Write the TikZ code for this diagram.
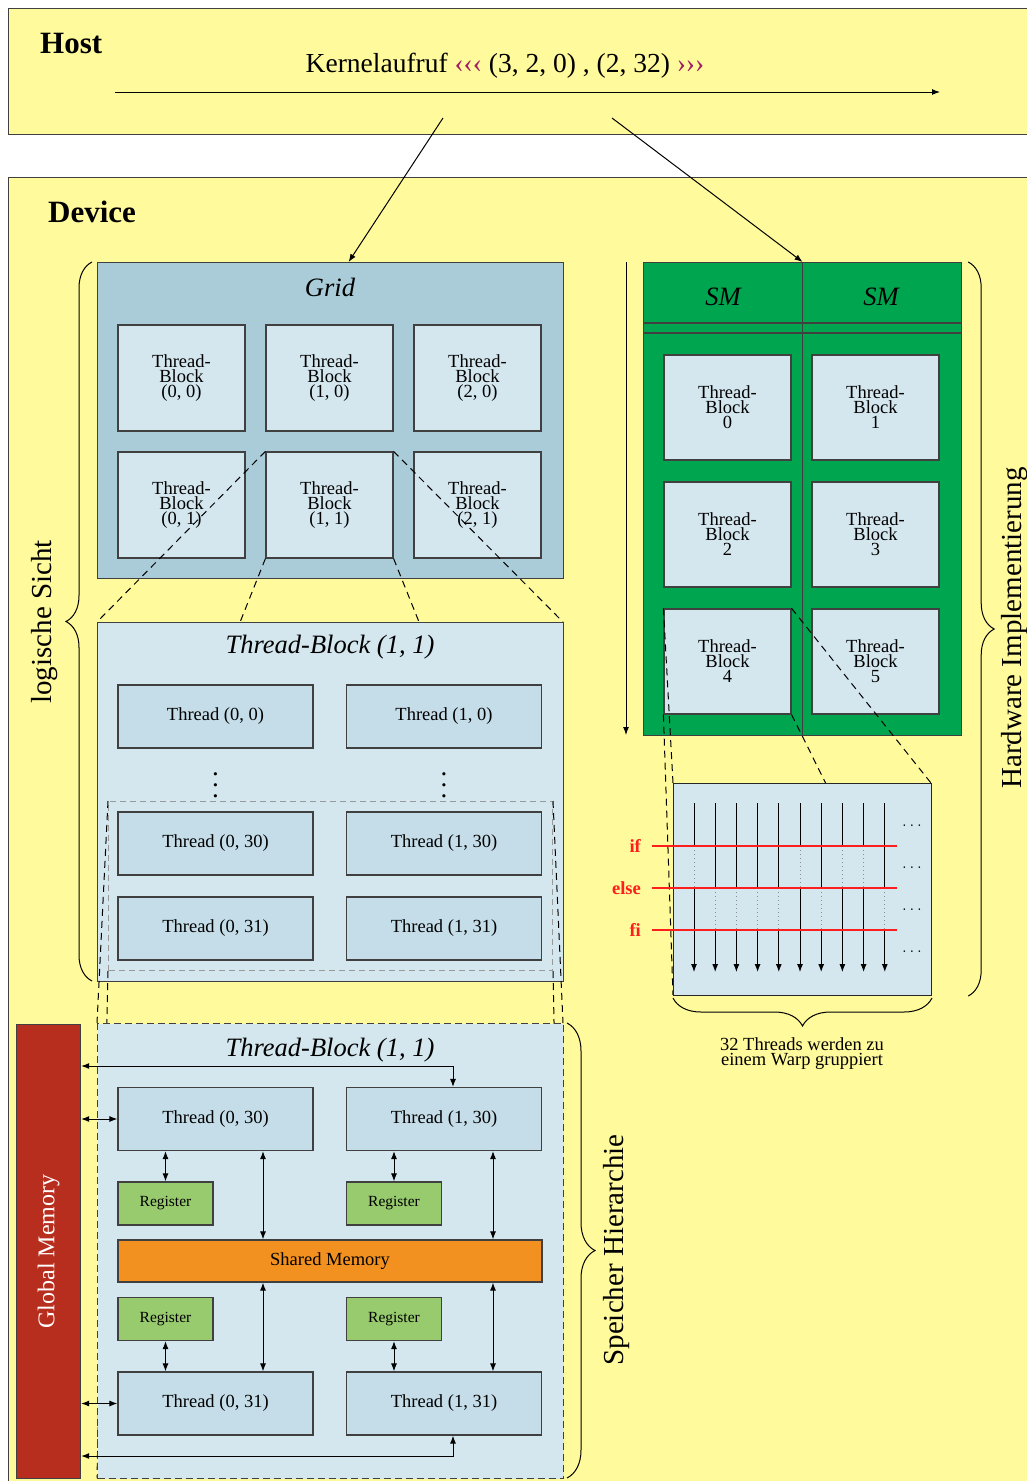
\documentclass[tikz,border=0pt]{standalone}
\usepackage{fontspec}
\setmainfont{Liberation Serif}
\usepackage{xcolor}
\usepackage{tikz}
\usetikzlibrary{positioning, arrows.meta, decorations.pathreplacing}

\definecolor{devyellow}{RGB}{255,250,155}
\definecolor{gridblue}{RGB}{170,204,216}
\definecolor{blockblue}{RGB}{212,231,239}
\definecolor{threadblue}{RGB}{196,221,232}
\definecolor{smgreen}{RGB}{0,165,80}
\definecolor{gmred}{RGB}{184,46,30}
\definecolor{reggreen}{RGB}{152,203,110}
\definecolor{shmorange}{RGB}{243,145,32}
\definecolor{launch}{RGB}{160,30,100}
\definecolor{branchred}{RGB}{255,30,30}

\newcommand{\cudalabel}{\fontsize{18.5}{15}\selectfont}
\newcommand{\cudatitle}{\fontsize{26.5}{30}\selectfont\itshape}
\newcommand{\cudabrace}{\fontsize{29}{32}\selectfont}
\newcommand{\cudahead}{\fontsize{31}{34}\selectfont\bfseries}

\tikzset{
  box/.style={draw=black!75, line width=1.2pt, inner sep=0pt},
  tblock/.style={box, fill=blockblue, minimum width=127pt, minimum height=106pt, align=center, font=\cudalabel},
  thread/.style={box, fill=threadblue, minimum width=195pt, minimum height=63pt, font=\cudalabel},
  register/.style={box, fill=reggreen, minimum width=95pt, minimum height=43pt, font=\fontsize{15.5}{18}\selectfont},
  title/.style={anchor=base, inner sep=0pt, font=\cudatitle},
  proj/.style={black, line width=1pt, dash pattern=on 7pt off 5pt},
  memarrow/.style={<->, line width=1pt},
  warparrow/.style={->, line width=1pt},
  inactive/.style={black!45, line width=0.9pt, dash pattern=on 1pt off 3pt},
  branch/.style={branchred, line width=1.2pt},
  branchlabel/.style={anchor=base east, inner sep=0pt, text=branchred, font=\fontsize{18.5}{20}\selectfont\bfseries},
  bracedeco/.style={decorate, line width=1pt, decoration={brace, amplitude=#1}},
}

\begin{document}
\begin{tikzpicture}[x=1pt, y=-1pt, >={Latex[length=8pt,width=6pt]}]
    \useasboundingbox (0,0) rectangle (1027,1481);
    \clip (0,0) rectangle (1027,1481);

    % Host with the kernel launch
    \node[box, fill=devyellow, minimum width=1040pt, minimum height=126pt, anchor=north west] (host) at (8,8) {};
    \node[anchor=base west, inner sep=0pt, font=\cudahead] (hostlabel) at (40,53) {Host};
    \node[font=\fontsize{27.5}{30}\selectfont] (kcall) at (505,66) {Kernelaufruf \textcolor{launch}{‹‹‹} (3, 2, 0) , (2, 32) \textcolor{launch}{›››}};
    \coordinate (t0) at (115,92);
    \coordinate (t1) at (940,92);
    \draw[->, line width=1pt] (t0) -- (t1);

    % Device
    \node[box, fill=devyellow, minimum width=1040pt, minimum height=1320pt, anchor=north west] (device) at (8,177) {};
    \node[anchor=base west, inner sep=0pt, font=\cudahead] (devlabel) at (48,222) {Device};

    % Grid of thread blocks
    \node[box, fill=gridblue, minimum width=466pt, minimum height=316pt, anchor=north west] (grid) at (97,262) {};
    \node[title] (gridlabel) at (330,296) {Grid};
    \node[tblock] (gb00) at (181.5,378) {Thread-\\Block\\(0, 0)};
    \node[tblock] (gb10) at (329.5,378) {Thread-\\Block\\(1, 0)};
    \node[tblock] (gb20) at (477.5,378) {Thread-\\Block\\(2, 0)};
    \node[tblock] (gb01) at (181.5,505) {Thread-\\Block\\(0, 1)};
    \node[tblock] (gb11) at (329.5,505) {Thread-\\Block\\(1, 1)};
    \node[tblock] (gb21) at (477.5,505) {Thread-\\Block\\(2, 1)};

    % Kernel launch to grid
    \coordinate (kgrid) at (443,118);
    \draw[->, line width=1pt] (kgrid) -- ([xshift=18pt]grid.north);

    % Zoom from block (1, 1) into its threads
    \coordinate (tbnw) at (97,622);
    \coordinate (tbne) at (563,622);
    \coordinate (tbsw) at (97,981);
    \coordinate (tbse) at (563,981);
    \draw[proj] (gb11.north west) -- (tbnw);
    \draw[proj] (gb11.south west) -- (tbsw);
    \draw[proj] (gb11.north east) -- (tbne);
    \draw[proj] (gb11.south east) -- (tbse);

    % Thread-Block (1, 1)
    \node[box, fill=blockblue, minimum width=466pt, minimum height=359pt, anchor=north west] (tb11) at (tbnw) {};
    \node[title] (tb11label) at (330,653) {Thread-Block (1, 1)};
    \node[thread] (tt00) at (215.5,716.5) {Thread (0, 0)};
    \node[thread] (tt10) at (444,716.5) {Thread (1, 0)};
    \node[scale=2.7, inner sep=0pt] (vdots0) at (215.5,777) {$\vdots$};
    \node[scale=2.7, inner sep=0pt] (vdots1) at (444,777) {$\vdots$};
    \node[thread] (tt030) at (215.5,843.5) {Thread (0, 30)};
    \node[thread] (tt130) at (444,843.5) {Thread (1, 30)};
    \node[thread] (tt031) at (215.5,928.5) {Thread (0, 31)};
    \node[thread] (tt131) at (444,928.5) {Thread (1, 31)};
    \node[draw=black!40, line width=1pt, dash pattern=on 6pt off 4pt, inner sep=0pt, minimum width=444pt, minimum height=169pt, anchor=north west] (sel) at (108,801) {};

    % Zoom from the last two threads into the memory view
    \coordinate (memnw) at (97,1023);
    \coordinate (memne) at (563,1023);
    \coordinate (memsw) at (97,1478);
    \coordinate (memse) at (563,1478);
    \draw[proj] (sel.north west) -- (memnw);
    \draw[proj] (sel.south west) -- (memsw);
    \draw[proj] (sel.north east) -- (memne);
    \draw[proj] (sel.south east) -- (memse);

    % Memory hierarchy
    \node[box, dash pattern=on 7pt off 4pt, fill=blockblue, minimum width=466pt, minimum height=455pt, anchor=north west] (mem) at (memnw) {};
    \node[title] (memlabel) at (330,1056) {Thread-Block (1, 1)};
    \node[box, fill=gmred, minimum width=64pt, minimum height=454pt, anchor=north west] (gm) at (16,1024) {};
    \node[rotate=90, text=white, font=\fontsize{24}{26}\selectfont] (gmlabel) at (gm.center) {Global Memory};
    \node[thread] (t030) at (215.5,1119) {Thread (0, 30)};
    \node[thread] (t130) at (444,1119) {Thread (1, 30)};
    \node[register] (r030) at (165.5,1203.5) {Register};
    \node[register] (r130) at (394,1203.5) {Register};
    \node[box, fill=shmorange, minimum width=424pt, minimum height=42pt, font=\cudalabel] (shm) at (330,1261) {Shared Memory};
    \node[register] (r031) at (165.5,1319) {Register};
    \node[register] (r131) at (394,1319) {Register};
    \node[thread] (t031) at (215.5,1403.5) {Thread (0, 31)};
    \node[thread] (t131) at (444,1403.5) {Thread (1, 31)};

    % Memory accesses
    \draw[memarrow] (gm.east |- t030.west) -- (t030.west);
    \draw[memarrow] (gm.east |- t031.west) -- (t031.west);
    \draw[memarrow] ([xshift=9pt]t130.north) |- (gm.east |- 0,1066);
    \draw[memarrow] ([xshift=9pt]t131.south) |- (gm.east |- 0,1456);
    \draw[memarrow] (r030.north |- t030.south) -- (r030.north);
    \draw[memarrow] (r130.north |- t130.south) -- (r130.north);
    \draw[memarrow] (r031.south) -- (r031.south |- t031.north);
    \draw[memarrow] (r131.south) -- (r131.south |- t131.north);
    \draw[memarrow] (t030.south -| 263,0) -- (shm.north -| 263,0);
    \draw[memarrow] (t130.south -| 493,0) -- (shm.north -| 493,0);
    \draw[memarrow] (shm.south -| 263,0) -- (t031.north -| 263,0);
    \draw[memarrow] (shm.south -| 493,0) -- (t131.north -| 493,0);

    % Streaming multiprocessors
    \node[box, fill=smgreen, minimum width=318pt, minimum height=473pt, anchor=north west] (sm) at (643,262) {};
    \draw[line width=1.2pt, black!75] (sm.north) -- (sm.south);
    \draw[line width=1.2pt, black!75] (sm.west |- 0,323) -- (sm.east |- 0,323);
    \draw[line width=1.2pt, black!75] (sm.west |- 0,333) -- (sm.east |- 0,333);
    \node[title] (sm0label) at (723,305) {SM};
    \node[title] (sm1label) at (881,305) {SM};
    \node[tblock, minimum height=105pt] (sb0) at (727.5,407.5) {Thread-\\Block\\0};
    \node[tblock, minimum height=105pt] (sb1) at (875.5,407.5) {Thread-\\Block\\1};
    \node[tblock, minimum height=105pt] (sb2) at (727.5,534.5) {Thread-\\Block\\2};
    \node[tblock, minimum height=105pt] (sb3) at (875.5,534.5) {Thread-\\Block\\3};
    \node[tblock, minimum height=105pt] (sb4) at (727.5,661.5) {Thread-\\Block\\4};
    \node[tblock, minimum height=105pt] (sb5) at (875.5,661.5) {Thread-\\Block\\5};
    \coordinate (s0) at (626,262);
    \coordinate (s1) at (626,735);
    \draw[->, line width=1pt] (s0) -- (s1);

    % Kernel launch to SM
    \coordinate (ksm) at (612,118);
    \draw[->, line width=1pt] (ksm) -- (sm.north);

    % Zoom from block 4 into one warp
    \coordinate (warpnw) at (673,783);
    \coordinate (warpne) at (931,783);
    \coordinate (warpsw) at (673,995);
    \coordinate (warpse) at (931,995);
    \draw[proj] (sb4.north west) -- (warpnw);
    \draw[proj] (sb4.south west) -- (warpsw);
    \draw[proj] (sb4.north east) -- (warpne);
    \draw[proj] (sb4.south east) -- (warpse);

    % Warp with divergent branches
    \node[box, line width=1pt, draw=black!85, fill=blockblue, minimum width=258pt, minimum height=212pt, anchor=north west] (warp) at (warpnw) {};
    \draw[warparrow] (694,803) -- (694,846) (694,888) -- (694,972);
    \draw[warparrow] (715.2,803) -- (715.2,888) (715.2,930) -- (715.2,972);
    \draw[warparrow] (736.4,803) -- (736.4,888) (736.4,930) -- (736.4,972);
    \draw[warparrow] (757.6,803) -- (757.6,888) (757.6,930) -- (757.6,972);
    \draw[warparrow] (778.8,803) -- (778.8,888) (778.8,930) -- (778.8,972);
    \draw[warparrow] (800,803) -- (800,846) (800,888) -- (800,972);
    \draw[warparrow] (821.2,803) -- (821.2,888) (821.2,930) -- (821.2,972);
    \draw[warparrow] (842.4,803) -- (842.4,846) (842.4,888) -- (842.4,972);
    \draw[warparrow] (863.6,803) -- (863.6,846) (863.6,888) -- (863.6,972);
    \draw[warparrow] (884.8,803) -- (884.8,888) (884.8,930) -- (884.8,972);
    \draw[inactive] (694,846) -- (694,888) (800,846) -- (800,888) (842.4,846) -- (842.4,888) (863.6,846) -- (863.6,888);
    \draw[inactive] (715.2,888) -- (715.2,930) (736.4,888) -- (736.4,930) (757.6,888) -- (757.6,930) (778.8,888) -- (778.8,930) (821.2,888) -- (821.2,930) (884.8,888) -- (884.8,930);
    \node[anchor=base, inner sep=0pt, font=\fontsize{18.5}{20}\selectfont] (more0) at (912,826) {$\ldots$};
    \node[anchor=base, inner sep=0pt, font=\fontsize{18.5}{20}\selectfont] (more1) at (912,868) {$\ldots$};
    \node[anchor=base, inner sep=0pt, font=\fontsize{18.5}{20}\selectfont] (more2) at (912,910) {$\ldots$};
    \node[anchor=base, inner sep=0pt, font=\fontsize{18.5}{20}\selectfont] (more3) at (912,952) {$\ldots$};
    \draw[branch] (652,846) -- (897,846);
    \draw[branch] (652,888) -- (897,888);
    \draw[branch] (652,930) -- (897,930);
    \node[branchlabel] (lif) at (641,852) {if};
    \node[branchlabel] (lelse) at (641,894) {else};
    \node[branchlabel] (lfi) at (641,936) {fi};

    % Braces
    \draw[bracedeco=28pt, decoration={mirror}] ([yshift=-2pt]warp.south west) -- ([yshift=-2pt]warp.south east);
    \node[align=center, font=\cudalabel] (warptext) at (802,1054) {32 Threads werden zu\\einem Warp gruppiert};
    \draw[bracedeco=26pt] ([xshift=-5pt]tbsw) -- ([xshift=-5pt]grid.north west);
    \node[rotate=90, font=\cudabrace] (logic) at (45,622) {logische Sicht};
    \draw[bracedeco=26pt] ([xshift=6pt]sm.north east) -- ([xshift=6pt]sm.east |- warp.south);
    \node[rotate=90, font=\cudabrace] (hwlabel) at (1015,628) {Hardware Implementierung};
    \draw[bracedeco=28pt] ([xshift=4pt]memne) -- ([xshift=4pt]memse);
    \node[rotate=90, font=\cudabrace] (memhier) at (617,1250) {Speicher Hierarchie};
\end{tikzpicture}
\end{document}
